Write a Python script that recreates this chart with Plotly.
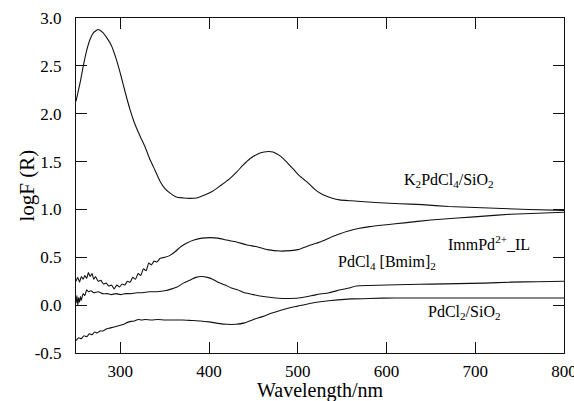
import plotly.graph_objects as go

# Diffuse-reflectance UV-vis spectra, log F(R) vs wavelength (nm)
k2_wl = [250, 255, 258, 262, 266, 270, 275, 280, 285, 290, 295, 300, 305, 311, 316,
         322, 328, 333, 339, 345, 350, 356, 363, 371, 378, 386, 395, 404, 413, 423,
         431, 438, 446, 455, 462, 467, 472, 480, 487, 495, 502, 510, 519, 529, 538,
         547, 560, 575, 592, 615, 640, 670, 700, 730, 760, 800]
k2_val = [2.13, 2.34, 2.49, 2.66, 2.78, 2.85, 2.88, 2.85, 2.79, 2.71, 2.58, 2.42, 2.24,
          2.04, 1.90, 1.77, 1.65, 1.53, 1.41, 1.29, 1.22, 1.17, 1.13, 1.12, 1.115, 1.12,
          1.15, 1.19, 1.25, 1.32, 1.39, 1.46, 1.53, 1.58, 1.60, 1.605, 1.60, 1.56, 1.50,
          1.42, 1.35, 1.29, 1.21, 1.15, 1.12, 1.10, 1.09, 1.08, 1.07, 1.06, 1.05, 1.03,
          1.02, 1.01, 1.00, 0.99]

imm_wl = [250, 252, 254, 256, 258, 260, 262, 264, 266, 268, 270, 272, 275, 278, 281,
          284, 287, 290, 293, 296, 299, 302, 305, 308, 311, 314, 317, 320, 323, 326,
          329, 332, 335, 338, 341, 345, 350, 356, 362, 368, 375, 383, 392, 401, 410,
          420, 431, 442, 454, 466, 480, 492, 500, 512, 525, 540, 555, 568, 581, 600,
          620, 650, 680, 710, 740, 770, 800]
imm_val = [0.25, 0.29, 0.24, 0.30, 0.27, 0.31, 0.28, 0.34, 0.30, 0.33, 0.27, 0.30, 0.25,
           0.26, 0.22, 0.23, 0.20, 0.21, 0.17, 0.21, 0.19, 0.22, 0.21, 0.25, 0.24, 0.29,
           0.27, 0.33, 0.31, 0.38, 0.36, 0.44, 0.42, 0.46, 0.45, 0.49, 0.50, 0.52, 0.56,
           0.61, 0.65, 0.68, 0.70, 0.705, 0.70, 0.68, 0.66, 0.63, 0.61, 0.58, 0.565, 0.57,
           0.58, 0.62, 0.66, 0.72, 0.77, 0.80, 0.82, 0.84, 0.86, 0.89, 0.91, 0.93, 0.95,
           0.96, 0.97]

bmim_wl = [250, 251, 252, 253, 254, 255, 256, 258, 260, 262, 264, 267, 270, 275, 280,
           285, 290, 295, 300, 306, 312, 318, 325, 332, 341, 350, 358, 364, 371, 378,
           385, 392, 398, 404, 410, 418, 425, 432, 440, 450, 461, 475, 491, 505, 521,
           535, 548, 558, 566, 580, 600, 625, 650, 680, 710, 740, 770, 800]
bmim_val = [0.02, 0.10, 0.00, 0.08, 0.03, 0.09, 0.05, 0.12, 0.10, 0.16, 0.14, 0.15, 0.13,
            0.14, 0.12, 0.12, 0.11, 0.12, 0.11, 0.12, 0.12, 0.13, 0.13, 0.14, 0.14, 0.15,
            0.17, 0.19, 0.23, 0.26, 0.29, 0.30, 0.29, 0.27, 0.24, 0.21, 0.18, 0.16, 0.13,
            0.11, 0.09, 0.075, 0.07, 0.08, 0.11, 0.13, 0.16, 0.18, 0.20, 0.205, 0.21, 0.215,
            0.22, 0.225, 0.23, 0.24, 0.245, 0.25]

pdcl2_wl = [250, 253, 256, 259, 262, 265, 268, 271, 274, 277, 280, 284, 288, 292, 296,
            300, 304, 308, 312, 316, 320, 324, 328, 335, 342, 350, 360, 370, 380, 390,
            400, 410, 420, 430, 440, 450, 460, 470, 480, 490, 500, 515, 530, 545, 560,
            580, 610, 650, 700, 750, 800]
pdcl2_val = [-0.37, -0.34, -0.35, -0.32, -0.33, -0.30, -0.31, -0.28, -0.29, -0.27, -0.27,
             -0.25, -0.24, -0.23, -0.22, -0.21, -0.20, -0.18, -0.17, -0.165, -0.15, -0.155,
             -0.15, -0.155, -0.15, -0.155, -0.155, -0.155, -0.16, -0.165, -0.175, -0.19,
             -0.20, -0.20, -0.185, -0.15, -0.12, -0.085, -0.055, -0.03, -0.01, 0.02, 0.04,
             0.055, 0.065, 0.07, 0.075, 0.075, 0.075, 0.075, 0.075]

x_range = [250, 800]
y_range = [-0.5, 3.0]
y_ticks = [-0.5, 0.0, 0.5, 1.0, 1.5, 2.0, 2.5, 3.0]
y_labels = ["-0.5", "0.0", "0.5", "1.0", "1.5", "2.0", "2.5", "3.0"]
x_ticks = [300, 400, 500, 600, 700, 800]
x_labels = ["300", "400", "500", "600", "700", "800"]

series = [
    (k2_wl, k2_val, "K<sub>2</sub>PdCl<sub>4</sub>/SiO<sub>2</sub>", 670, 1.30),
    (imm_wl, imm_val, "ImmPd<sup>2+</sup>_IL", 716, 0.65),
    (bmim_wl, bmim_val, "PdCl<sub>4</sub> [Bmim]<sub>2</sub>", 600, 0.45),
    (pdcl2_wl, pdcl2_val, "PdCl<sub>2</sub>/SiO<sub>2</sub>", 688, -0.08),
]

serif = "Liberation Serif"
ink = "#111111"

fig = go.Figure()
annotations = []
for wl, val, name, lx, ly in series:
    fig.add_trace(go.Scatter(
        x=wl, y=val, mode="lines", name=name,
        line=dict(color=ink, width=1.1, shape="spline", smoothing=0.5),
        showlegend=False, hoverinfo="skip",
    ))
    annotations.append(dict(
        x=lx, y=ly, xref="x", yref="y", text=name, showarrow=False,
        font=dict(family=serif, size=16, color="black"),
    ))

# axis titles
annotations.append(dict(x=0.5, y=0, xref="paper", yref="paper", text="Wavelength/nm",
                        showarrow=False, xanchor="center", yanchor="middle", yshift=-37,
                        font=dict(family=serif, size=20, color="black")))
annotations.append(dict(x=0, y=0.5, xref="paper", yref="paper", text="logF (R)",
                        showarrow=False, xanchor="center", yanchor="middle", xshift=-50,
                        textangle=-90, font=dict(family=serif, size=21, color="black")))

fig.update_layout(
    template="none",
    width=574, height=401,
    margin=dict(l=76, r=10, t=18, b=48, autoexpand=False),
    paper_bgcolor="white", plot_bgcolor="white",
    font=dict(family=serif, size=17, color="black"),
    annotations=annotations,
)

axis_style = dict(
    showline=True, linecolor=ink, linewidth=1, mirror="allticks",
    ticks="inside", ticklen=11, tickwidth=1, tickcolor=ink,
    showgrid=False, zeroline=False, automargin=False,
    tickfont=dict(family=serif, size=17, color="black"),
    ticklabeloverflow="allow",
)

fig.update_xaxes(range=x_range, tickmode="array", tickvals=x_ticks, ticktext=x_labels,
                 ticklabelstandoff=3, **axis_style)
fig.update_yaxes(range=y_range, tickmode="array", tickvals=y_ticks, ticktext=y_labels,
                 ticklabelstandoff=10, **axis_style)

fig.write_html("out.html")
